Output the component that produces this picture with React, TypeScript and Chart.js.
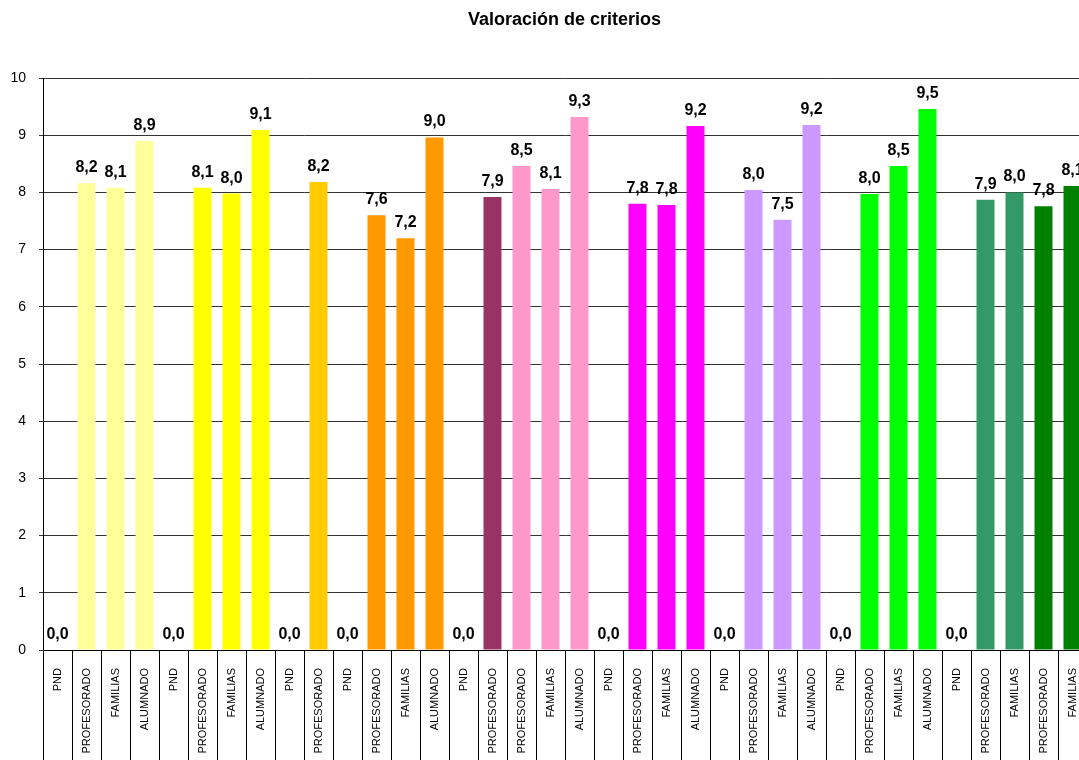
import React, { useEffect, useRef } from "react";
import { Chart, registerables } from "chart.js";

Chart.register(...registerables);

const chartTitle = "Valoración de criterios";

const categories: string[] = [
  "PND", "PROFESORADO", "FAMILIAS", "ALUMNADO",
  "PND", "PROFESORADO", "FAMILIAS", "ALUMNADO",
  "PND", "PROFESORADO",
  "PND", "PROFESORADO", "FAMILIAS", "ALUMNADO",
  "PND", "PROFESORADO", "PROFESORADO", "FAMILIAS", "ALUMNADO",
  "PND", "PROFESORADO", "FAMILIAS", "ALUMNADO",
  "PND", "PROFESORADO", "FAMILIAS", "ALUMNADO",
  "PND", "PROFESORADO", "FAMILIAS", "ALUMNADO",
  "PND", "PROFESORADO", "FAMILIAS", "PROFESORADO", "FAMILIAS",
];

const values: number[] = [
  0, 8.16, 8.08, 8.9,
  0, 8.08, 7.98, 9.09,
  0, 8.18,
  0, 7.6, 7.2, 8.96,
  0, 7.92, 8.46, 8.06, 9.32,
  0, 7.8, 7.78, 9.16,
  0, 8.04, 7.52, 9.18,
  0, 7.97, 8.46, 9.46,
  0, 7.87, 8.0, 7.76, 8.11,
];

const barColors: string[] = [
  "#FFFF99", "#FFFF99", "#FFFF99", "#FFFF99",
  "#FFFF00", "#FFFF00", "#FFFF00", "#FFFF00",
  "#FFCC00", "#FFCC00",
  "#FF9900", "#FF9900", "#FF9900", "#FF9900",
  "#993366", "#993366", "#FF99CC", "#FF99CC", "#FF99CC",
  "#FF00FF", "#FF00FF", "#FF00FF", "#FF00FF",
  "#CC99FF", "#CC99FF", "#CC99FF", "#CC99FF",
  "#00FF00", "#00FF00", "#00FF00", "#00FF00",
  "#339966", "#339966", "#339966", "#008000", "#008000",
];

const yMin = 0;
const yMax = 10;
const yStep = 1;

const FONT = "'Liberation Sans', Arial, sans-serif";

const fmt = (v: number) => v.toFixed(1).replace(".", ",");

const valueLabels = {
  id: "valueLabels",
  afterDatasetsDraw(chart: any) {
    const ctx = chart.ctx;
    const meta = chart.getDatasetMeta(0);
    ctx.save();
    ctx.font = `bold 16px ${FONT}`;
    ctx.fillStyle = "#000";
    ctx.textAlign = "center";
    ctx.textBaseline = "alphabetic";
    meta.data.forEach((bar: any, i: number) => {
      ctx.fillText(fmt(values[i]), bar.x, bar.y - 11);
    });
    ctx.restore();
  },
};

const centeredTitle = {
  id: "centeredTitle",
  afterDraw(chart: any) {
    const ctx = chart.ctx;
    ctx.save();
    ctx.font = `bold 18px ${FONT}`;
    ctx.fillStyle = "#000";
    ctx.textAlign = "center";
    ctx.textBaseline = "middle";
    ctx.fillText(chartTitle, chart.width / 2, 20);
    ctx.restore();
  },
};

export default function App() {
  const ref = useRef<HTMLCanvasElement | null>(null);

  useEffect(() => {
    if (!ref.current) return;
    const chart = new Chart(ref.current, {
      type: "bar",
      data: {
        labels: categories,
        datasets: [
          {
            data: values,
            backgroundColor: barColors,
            borderWidth: 0,
            barPercentage: 0.62,
            categoryPercentage: 1,
          },
        ],
      },
      options: {
        responsive: false,
        animation: false,
        layout: { padding: { left: 0, right: 42, top: 78, bottom: 0 } },
        plugins: {
          legend: { display: false },
          tooltip: { enabled: false },
          title: { display: false },
        },
        scales: {
          x: {
            offset: true,
            grid: {
              display: true,
              offset: true,
              drawOnChartArea: false,
              drawTicks: true,
              tickLength: 110,
              color: "#000",
              lineWidth: 1,
            },
            border: { display: true, color: "#000", width: 1 },
            ticks: {
              autoSkip: false,
              maxRotation: 90,
              minRotation: 90,
              padding: -92,
              color: "#000",
              font: { family: FONT, size: 11 },
            },
            afterFit: (s: any) => {
              s.height = 110;
            },
          },
          y: {
            min: yMin,
            max: yMax,
            ticks: {
              stepSize: yStep,
              padding: 13,
              color: "#000",
              font: { family: FONT, size: 14 },
            },
            grid: { color: "#333", lineWidth: 1, tickLength: 4 },
            border: { display: true, color: "#000", width: 1 },
            afterFit: (s: any) => {
              s.width = 43;
            },
          },
        },
      },
      plugins: [valueLabels, centeredTitle],
    });
    return () => chart.destroy();
  }, []);

  return (
    <div
      style={{
        position: "fixed",
        left: 0,
        top: 0,
        width: 1079,
        height: 760,
        overflow: "hidden",
        background: "#fff",
      }}
    >
      <canvas ref={ref} width={1129} height={760} style={{ display: "block" }} />
    </div>
  );
}
